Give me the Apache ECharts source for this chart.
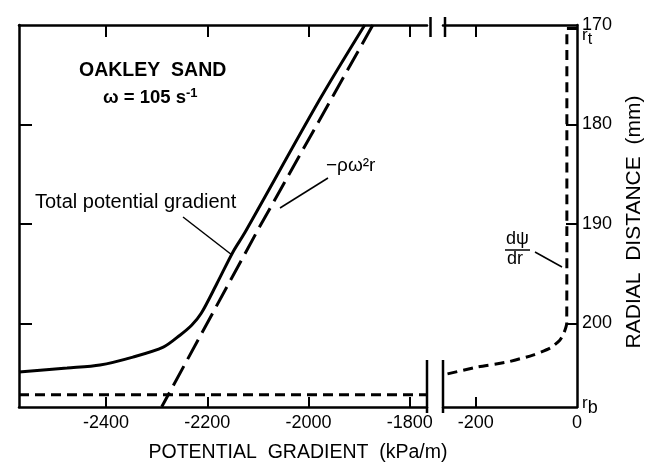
<!DOCTYPE html>
<html>
<head>
<meta charset="utf-8">
<script src="https://cdn.jsdelivr.net/npm/echarts@6/dist/echarts.min.js"></script>
<style>html,body{margin:0;padding:0;background:#fff}#c{width:656px;height:464px}</style>
</head>
<body>
<div id="c"></div>
<script>
// ---- data (x: potential gradient kPa/m, y: radial distance mm) ----
const leftTicks = [-2400, -2200, -2000, -1800];
const rightTicks = [-200, 0];
const radialTicks = [170, 180, 190, 200];
const totalGradient = [[-1889,170],[-1978,177.5],[-2126,190.9],[-2149,192.8],[-2181,196.0],[-2212,199.0],[-2231,200.2],[-2254,201.2],[-2287,202.4],[-2347,203.4],[-2412,204.2],[-2477,204.5],[-2572,204.9]];
const rhoOmega2r = [[-1873,170],[-2100,190.6],[-2290,208.4]];
const dpsiRight = [[0,170.35],[-20,170.35],[-20,190],[-20.3,200],[-26,201],[-34,201.7],[-53,202.5],[-87,203.2],[-138,203.9],[-197,204.4],[-264.6,205.2]];
const dpsiLeft = [[-2572,207.2],[-1766,207.2]];

const FONT = '"Liberation Sans", Arial, sans-serif';
const K = '#000';
const chart = echarts.init(document.getElementById('c'), null, {renderer:'canvas'});

function xAx(grid, pos, min, max, ticks, labels, tickLen) {
  return {
    type:'value', gridIndex:grid, position:pos, min:min, max:max,
    axisLine:{show:true, onZero:false, lineStyle:{color:K, width:2.5}},
    axisTick:{show:ticks.length>0, inside:true, length:tickLen, customValues:ticks, lineStyle:{color:K, width:2}},
    axisLabel:{show:!!labels, customValues:labels||[], margin:7, color:K, fontSize:18, fontFamily:FONT, formatter:v=>String(v)},
    splitLine:{show:false}
  };
}
function yAx(grid, pos, ticks, labels, tickLen) {
  return {
    type:'value', gridIndex:grid, position:pos, inverse:true, min:170, max:208.42,
    axisLine:{show:true, onZero:false, lineStyle:{color:K, width:2.5}},
    axisTick:{show:true, inside:true, length:tickLen, customValues:ticks, lineStyle:{color:K, width:2}},
    axisLabel:{show:!!labels, customValues:labels||[], margin:5, color:K, fontSize:18, fontFamily:FONT, formatter:v=>String(v)},
    splitLine:{show:false}
  };
}

const option = {
  animation:false,
  backgroundColor:'#fff',
  grid:[
    {left:19, top:25, width:408, height:382},
    {left:443, top:25, width:134, height:382}
  ],
  xAxis:[
    xAx(0,'bottom',-2572,-1766,leftTicks,leftTicks,10),
    xAx(0,'top',-2572,-1766,leftTicks,null,12),
    xAx(1,'bottom',-264.6,0,[-200],rightTicks,10),
    xAx(1,'top',-264.6,0,[-200],null,12)
  ],
  yAxis:[
    yAx(0,'left',[180,190,200],null,13),
    yAx(1,'right',[180,190,200],radialTicks,11)
  ],
  series:[
    {type:'line', xAxisIndex:0, yAxisIndex:0, data:totalGradient, symbol:'none', smooth:0.3,
     lineStyle:{color:K, width:3}},
    {type:'line', xAxisIndex:0, yAxisIndex:0, data:rhoOmega2r, symbol:'none',
     lineStyle:{color:K, width:3, type:[22,8]}},
    {type:'line', xAxisIndex:0, yAxisIndex:0, data:dpsiLeft, symbol:'none',
     lineStyle:{color:K, width:3, type:[10,6]}},
    {type:'line', xAxisIndex:2, yAxisIndex:1, data:dpsiRight, symbol:'none', smooth:0.2,
     lineStyle:{color:K, width:3, type:[10,6]}}
  ],
  graphic:[
    // axis break marks
    {type:'line', shape:{x1:430.5,y1:17,x2:430.5,y2:37}, style:{stroke:K, lineWidth:2.5}},
    {type:'line', shape:{x1:445,y1:17,x2:445,y2:37}, style:{stroke:K, lineWidth:2.5}},
    {type:'line', shape:{x1:427,y1:360,x2:427,y2:413}, style:{stroke:K, lineWidth:2.5}},
    {type:'line', shape:{x1:443,y1:360,x2:443,y2:413}, style:{stroke:K, lineWidth:2.5}},
    // annotations
    {type:'text', left:79, top:61, style:{text:'OAKLEY  SAND', font:'bold 19.5px '+FONT, fill:K}},
    {type:'text', left:103, top:87, style:{text:'{a|ω = 105 s}{b|-1}', fill:K,
      rich:{a:{font:'bold 18.5px '+FONT, fill:K}, b:{font:'bold 13px '+FONT, fill:K, verticalAlign:'top', padding:[0,0,9,0]}}}},
    {type:'text', left:35, top:192, style:{text:'Total potential gradient', font:'20px '+FONT, fill:K}},
    {type:'line', shape:{x1:183,y1:217,x2:232,y2:255}, style:{stroke:K, lineWidth:1.5}},
    {type:'text', left:326, top:156, style:{text:'−ρω²r', font:'19px '+FONT, fill:K}},
    {type:'line', shape:{x1:328,y1:178,x2:280,y2:208}, style:{stroke:K, lineWidth:1.5}},
    {type:'text', left:506, top:230, style:{text:'dψ', font:'18px '+FONT, fill:K}},
    {type:'line', shape:{x1:505,y1:250,x2:530,y2:250}, style:{stroke:K, lineWidth:1.5}},
    {type:'text', left:507, top:250, style:{text:'dr', font:'18px '+FONT, fill:K}},
    {type:'line', shape:{x1:535,y1:252,x2:562,y2:267}, style:{stroke:K, lineWidth:1.5}},
    {type:'text', left:582, top:27, style:{text:'{a|r}{b|t}', rich:{a:{font:'17px '+FONT, fill:K}, b:{font:'16px '+FONT, fill:K, padding:[8,0,0,0]}}}},
    {type:'text', left:582, top:395, style:{text:'{a|r}{b|b}', rich:{a:{font:'17px '+FONT, fill:K}, b:{font:'18px '+FONT, fill:K, padding:[10,0,0,0]}}}},
    {type:'text', x:298, y:453, style:{text:'POTENTIAL  GRADIENT  (kPa/m)', font:'19.5px '+FONT, fill:K, align:'center', verticalAlign:'middle'}},
    {type:'text', x:634, y:222, rotation:Math.PI/2, style:{text:'RADIAL  DISTANCE  (mm)', font:'21px '+FONT, fill:K, align:'center', verticalAlign:'middle'}}
  ]
};
chart.setOption(option);
</script>
</body>
</html>
